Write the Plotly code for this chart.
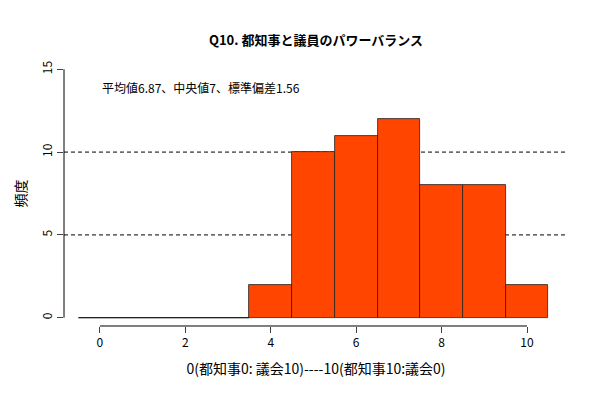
import plotly.graph_objects as go

bins = [0, 1, 2, 3, 4, 5, 6, 7, 8, 9, 10]
counts = [0, 0, 0, 0, 2, 10, 11, 12, 8, 8, 2]
xticks = [0, 2, 4, 6, 8, 10]
yticks = [0, 5, 10, 15]

F = "Noto Sans CJK JP"
fig = go.Figure(go.Bar(x=bins, y=counts, width=1, marker=dict(color="#FF4500", line=dict(color="#222222", width=0.8))))
for yv in [5, 10]:
    fig.add_shape(type="line", xref="paper", x0=0, x1=1, y0=yv, y1=yv, line=dict(color="black", width=1, dash="4px,3px"), layer="below")
fig.add_shape(type="line", x0=-0.5, x1=3.5, y0=0, y1=0, line=dict(color="#222222", width=1))
fig.add_shape(type="line", x0=0, x1=10, yref="paper", y0=0, y1=0, line=dict(color="black", width=1))
fig.add_shape(type="line", xref="paper", x0=0, x1=0, y0=0, y1=15, line=dict(color="black", width=1))
fig.add_annotation(x=0, y=13.9, text="平均値6.87、中央値7、標準偏差1.56", showarrow=False, xanchor="left", font=dict(size=12, color="black", family=F))
fig.update_layout(
    width=600, height=400, plot_bgcolor="white", paper_bgcolor="white",
    margin=dict(l=54, r=40, t=53, b=82), showlegend=False, bargap=0,
    font=dict(family=F, size=12, color="black"),
    title=dict(text="<b>Q10. 都知事と議員のパワーバランス</b>", x=0.5, xref="paper", y=0.93, font=dict(size=13)),
    xaxis=dict(range=[-0.84, 10.96], tickvals=xticks, ticks="outside", ticklen=6, showgrid=False, zeroline=False, showline=False,
               title=dict(text="0(都知事0: 議会10)----10(都知事10:議会0)", standoff=14)),
    yaxis=dict(range=[-0.5, 15.5], tickvals=yticks, ticks="outside", ticklen=6, showgrid=False, zeroline=False, showline=False,
               tickangle=-90, title=dict(text="頻度", standoff=8)),
)
fig.write_html("out.html")
